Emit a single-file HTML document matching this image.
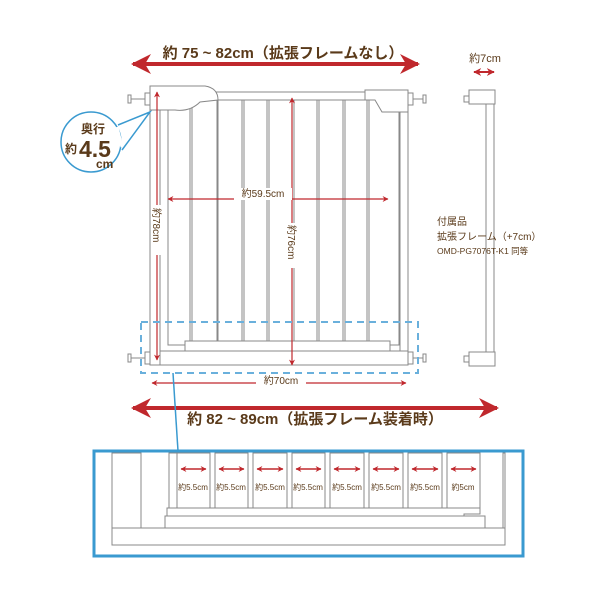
<!DOCTYPE html>
<html><head><meta charset="utf-8"><style>
body{margin:0;background:#fff}
svg{display:block;font-family:"Liberation Sans","Noto Sans CJK JP",sans-serif}
</style></head><body>
<svg width="600" height="600" viewBox="0 0 600 600">
<defs>
<marker id="a" viewBox="0 0 10 10" refX="9" refY="5" markerWidth="5" markerHeight="5" orient="auto-start-reverse"><path d="M0,0L10,5L0,10L3,5z" fill="#c0282d"/></marker>
<marker id="b" viewBox="0 0 10 10" refX="9" refY="5" markerWidth="4" markerHeight="4" orient="auto-start-reverse"><path d="M0,0L10,5L0,10L3,5z" fill="#c0282d"/></marker>
<marker id="c" viewBox="0 0 10 10" refX="9" refY="5" markerWidth="6" markerHeight="5" orient="auto-start-reverse"><path d="M0,0L10,5L0,10L3,5z" fill="#c0282d"/></marker>
</defs>
<!-- top big arrow -->
<line x1="133" y1="64" x2="418" y2="64" stroke="#c0282d" stroke-width="4" marker-start="url(#c)" marker-end="url(#c)"/>
<text x="283" y="58" text-anchor="middle" font-size="15" font-weight="bold" fill="#5a3a1a">約 75 ~ 82cm（拡張フレームなし）</text>
<!-- gate -->
<g fill="#fff" stroke="#888" stroke-width="1">
<rect x="128" y="95" width="3" height="8"/><line x1="131" y1="99" x2="145" y2="99"/>
<rect x="145" y="93" width="5" height="12"/>
<rect x="128" y="354" width="3" height="8"/><line x1="131" y1="358" x2="145" y2="358"/>
<rect x="145" y="352" width="5" height="12"/>
<rect x="423" y="95" width="3" height="8"/><line x1="410" y1="99" x2="423" y2="99"/>
<rect x="408" y="93" width="5" height="12"/>
<rect x="423" y="354" width="3" height="8"/><line x1="410" y1="358" x2="423" y2="358"/>
<rect x="408" y="352" width="5" height="12"/>
<rect x="150" y="88" width="10" height="277"/>
<rect x="160" y="92" width="245" height="8"/>
<rect x="168" y="100" width="22" height="245"/>
<rect x="192" y="100" width="25" height="245"/>
<rect x="218" y="100" width="24" height="245"/>
<rect x="244" y="100" width="23" height="245"/>
<rect x="269" y="100" width="23" height="245"/>
<rect x="294" y="100" width="23" height="245"/>
<rect x="319" y="100" width="24" height="245"/>
<rect x="345" y="100" width="22" height="245"/>
<rect x="369" y="100" width="30" height="245"/>
<rect x="400" y="92" width="8" height="273"/>
<rect x="185" y="341" width="205" height="10"/>
<rect x="160" y="351" width="248" height="14"/>
<path d="M150,86 L205,86 Q218,88 218,100 L200,102 Q190,112 175,110 L150,110Z"/>
<path d="M365,90 L408,90 L408,112 L382,112 L375,100 L365,100Z"/>
</g>
<!-- dims -->
<line x1="157" y1="92" x2="157" y2="360" stroke="#c0282d" stroke-width="1.2" marker-start="url(#a)" marker-end="url(#a)"/>
<rect x="151" y="205" width="12" height="50" fill="#fff"/>
<text transform="translate(153,208) rotate(90)" font-size="10" fill="#5a3a1a">約78cm</text>
<line x1="292" y1="98" x2="292" y2="365" stroke="#c0282d" stroke-width="1.2" marker-start="url(#a)" marker-end="url(#a)"/>
<rect x="286" y="223" width="12" height="45" fill="#fff"/>
<text transform="translate(288,225) rotate(90)" font-size="10" fill="#5a3a1a">約76cm</text>
<line x1="168" y1="199" x2="388" y2="199" stroke="#c0282d" stroke-width="1.2" marker-start="url(#a)" marker-end="url(#a)"/>
<rect x="234" y="188" width="58" height="12" fill="#fff"/>
<text x="263" y="197" text-anchor="middle" font-size="10" fill="#5a3a1a">約59.5cm</text>
<rect x="141" y="322" width="277" height="51" fill="none" stroke="#6ab0dc" stroke-width="2" stroke-dasharray="7,5"/>
<line x1="152" y1="383" x2="406" y2="383" stroke="#c0282d" stroke-width="1.2" marker-start="url(#a)" marker-end="url(#a)"/>
<rect x="256" y="374" width="50" height="12" fill="#fff"/>
<text x="281" y="384" text-anchor="middle" font-size="10" fill="#5a3a1a">約70cm</text>
<line x1="133" y1="408" x2="497" y2="408" stroke="#c0282d" stroke-width="4" marker-start="url(#c)" marker-end="url(#c)"/>
<text x="315" y="424" text-anchor="middle" font-size="15" font-weight="bold" fill="#5a3a1a">約 82 ~ 89cm（拡張フレーム装着時）</text>
<!-- bubble -->
<path d="M118,125 L150,112 L122,150" fill="#fff" stroke="#3a9ad0" stroke-width="1.5"/>
<circle cx="91" cy="142" r="30" fill="#fff" stroke="#3a9ad0" stroke-width="1.5"/>
<path d="M117,127 L122,147" stroke="#fff" stroke-width="3"/>
<text x="93" y="133" text-anchor="middle" font-size="12" font-weight="bold" fill="#5a3a1a">奥行</text>
<text x="65" y="153" font-size="12" font-weight="bold" fill="#5a3a1a">約</text>
<text x="79" y="157" font-size="23" font-weight="bold" fill="#5a3a1a">4.5</text>
<text x="96" y="168" font-size="12" font-weight="bold" fill="#5a3a1a">cm</text>
<!-- side piece -->
<line x1="474" y1="72" x2="494" y2="72" stroke="#c0282d" stroke-width="2" marker-start="url(#b)" marker-end="url(#b)"/>
<text x="485" y="62" text-anchor="middle" font-size="11" fill="#5a3a1a">約7cm</text>
<g fill="#fff" stroke="#888">
<rect x="486" y="100" width="8" height="258"/>
<rect x="464" y="96" width="5" height="6"/>
<rect x="469" y="90" width="26" height="14"/>
<rect x="464" y="356" width="5" height="6"/>
<rect x="469" y="352" width="26" height="14"/>
</g>
<text x="437" y="225" font-size="10" fill="#5a3a1a">付属品</text>
<text x="437" y="240" font-size="10" fill="#5a3a1a">拡張フレーム（+7cm）</text>
<text x="437" y="254" font-size="8.5" fill="#5a3a1a">OMD-PG7076T-K1 同等</text>
<!-- detail -->
<line x1="173" y1="373" x2="178" y2="451" stroke="#3a9ad0" stroke-width="1.5"/>
<rect x="94" y="451" width="429" height="105" fill="#fff" stroke="#3a9ad0" stroke-width="3"/>
<g fill="#fff" stroke="#888">
<rect x="112" y="453" width="29" height="75"/>
<rect x="169" y="453" width="8" height="75"/>
<rect x="177" y="453" width="33" height="55"/>
<rect x="215" y="453" width="33" height="55"/>
<rect x="253" y="453" width="34" height="55"/>
<rect x="292" y="453" width="33" height="55"/>
<rect x="330" y="453" width="34" height="55"/>
<rect x="369" y="453" width="34" height="55"/>
<rect x="408" y="453" width="34" height="55"/>
<rect x="447" y="453" width="33" height="55"/>
<rect x="503" y="453" width="2" height="75"/>
<path d="M167,508 L480,508 L480,514 L464,514 L464,521 L178,521 L178,516 L167,516Z"/>
<rect x="165" y="516" width="320" height="12"/>
<rect x="112" y="528" width="393" height="17"/>
</g>
<g stroke="#c0282d" stroke-width="1.5">
<line x1="181" y1="469" x2="206" y2="469" marker-start="url(#b)" marker-end="url(#b)"/>
<line x1="219" y1="469" x2="244" y2="469" marker-start="url(#b)" marker-end="url(#b)"/>
<line x1="257" y1="469" x2="283" y2="469" marker-start="url(#b)" marker-end="url(#b)"/>
<line x1="296" y1="469" x2="321" y2="469" marker-start="url(#b)" marker-end="url(#b)"/>
<line x1="334" y1="469" x2="360" y2="469" marker-start="url(#b)" marker-end="url(#b)"/>
<line x1="373" y1="469" x2="399" y2="469" marker-start="url(#b)" marker-end="url(#b)"/>
<line x1="412" y1="469" x2="438" y2="469" marker-start="url(#b)" marker-end="url(#b)"/>
<line x1="451" y1="469" x2="476" y2="469" marker-start="url(#b)" marker-end="url(#b)"/>
</g>
<g font-size="8" fill="#5a3a1a" text-anchor="middle">
<text x="193" y="490">約5.5cm</text><text x="231" y="490">約5.5cm</text>
<text x="270" y="490">約5.5cm</text><text x="308" y="490">約5.5cm</text>
<text x="347" y="490">約5.5cm</text><text x="386" y="490">約5.5cm</text>
<text x="425" y="490">約5.5cm</text><text x="463" y="490">約5cm</text>
</g>
</svg>
</body></html>
